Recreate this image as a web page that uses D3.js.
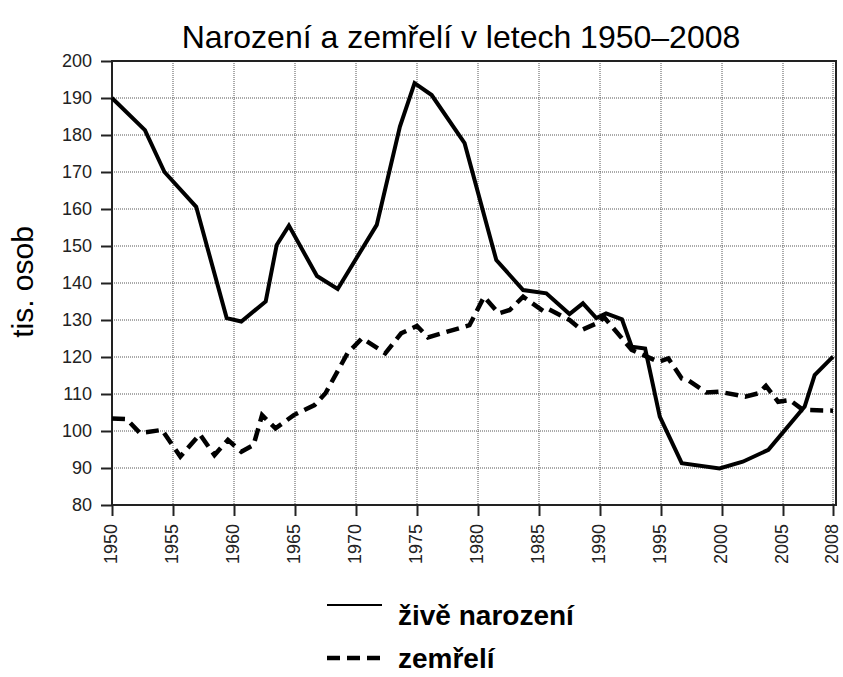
<!DOCTYPE html>
<html><head><meta charset="utf-8">
<script src="https://cdn.jsdelivr.net/npm/d3@7"></script>
<style>body{margin:0;background:#fff}svg{display:block;font-family:"Liberation Sans",Arial,sans-serif}</style>
</head><body><svg id="c" width="843" height="677"></svg>
<script>
const chartTitle = "Narození a zemřelí v letech 1950–2008";
const yTitle = "tis. osob";
const legendLabels = ["živě narození", "zemřelí"];
const xTicks = [1950,1955,1960,1965,1970,1975,1980,1985,1990,1995,2000,2005,2008];
const yTicks = [80,90,100,110,120,130,140,150,160,170,180,190,200];

const birthYears = [1950,1952.7,1954.3,1956.9,1959.4,1960.6,1962.6,1963.5,1964.5,1966.8,1968.5,1971.7,1973.6,1974.8,1976.2,1978.9,1981.5,1983.7,1985.6,1987.5,1988.6,1989.7,1990.5,1991.8,1992.6,1993.7,1994.9,1996.7,1999.8,2001.7,2003.8,2006.3,2006.9,2008];
const birthValues = [190,181.3,170,160.6,130.5,129.6,135,150.3,155.5,141.9,138.4,155.7,182.3,194,190.8,177.8,146.2,138.1,137.2,131.6,134.5,130.5,131.8,130.2,122.8,122.3,103.9,91.3,89.9,91.7,94.9,106.6,115.1,120.1];

const deathYears = [1950,1951.2,1952.3,1954.1,1955.6,1957.2,1958.4,1959.5,1960.6,1961.6,1962.3,1963.4,1964.9,1966.6,1967.5,1969.3,1970.5,1972.4,1973.7,1975,1975.9,1979.3,1980.5,1981.7,1982.6,1983.7,1985.4,1985.8,1987.5,1988.5,1990,1990.3,1992.6,1993.7,1994.8,1995.6,1996.7,1997.2,1998.7,1999.8,2001.9,2003,2003.6,2004.6,2005.4,2006.2,2008];
const deathValues = [103.4,103.2,99.4,100.3,93.1,99.1,93.5,97.6,94.4,96.2,104.3,100.7,104.3,107,110.2,121,125.1,121,126.4,128.4,125.3,128.6,136.3,131.8,132.7,136.3,132.3,132.9,130,127.3,129.5,130.9,121.9,120.3,118.7,119.6,114.2,113.8,110.4,110.6,109.3,110.2,112.2,107.9,108.4,105.7,105.5];

const svg = d3.select("#c");
const L = 112, R = 836, T = 61, B = 505;
const x = d3.scaleLinear().domain([1950, 2005, 2008]).range([112, 783, 833]);
const y = d3.scaleLinear().domain([80, 200]).range([B, T]);

// grid
const g = svg.append("g");
g.selectAll("line.gy").data(yTicks.filter(v => v > 80 && v < 200)).join("line")
  .attr("x1", L).attr("x2", R).attr("y1", d => y(d)).attr("y2", d => y(d))
  .attr("stroke", "#555").attr("stroke-width", 1).attr("stroke-dasharray", "1,1");
g.selectAll("line.gx").data(xTicks.filter(v => v > 1950)).join("line")
  .attr("x1", d => x(d)).attr("x2", d => x(d)).attr("y1", T).attr("y2", B)
  .attr("stroke", "#555").attr("stroke-width", 1).attr("stroke-dasharray", "1,1");

// frame
svg.append("rect").attr("x", L).attr("y", T).attr("width", R - L).attr("height", B - T)
  .attr("fill", "none").attr("stroke", "#222").attr("stroke-width", 2);

// axes
const yAxis = d3.axisLeft(y).tickValues(yTicks).tickSize(11).tickPadding(9).tickFormat(d3.format("d"));
const ya = svg.append("g").attr("transform", `translate(${L},0)`).call(yAxis);
ya.select(".domain").remove();
ya.selectAll("line").attr("stroke", "#222").attr("stroke-width", 2);
ya.selectAll("text").attr("font-size", 18).attr("fill", "#222").attr("font-family", "Liberation Sans, Arial, sans-serif");

const xAxis = d3.axisBottom(x).tickValues(xTicks).tickSize(11).tickFormat(d3.format("d"));
const xa = svg.append("g").attr("transform", `translate(0,${B})`).call(xAxis);
xa.select(".domain").remove();
xa.selectAll("line").attr("stroke", "#222").attr("stroke-width", 2);
xa.selectAll("text").attr("font-size", 18).attr("fill", "#222").attr("font-family", "Liberation Sans, Arial, sans-serif")
  .attr("text-anchor", "end").attr("transform", "translate(-2,0) rotate(-90)")
  .attr("x", -19).attr("y", 0).attr("dy", "0.35em");

// lines
const line = d3.line().x(d => x(d[0])).y(d => y(d[1]));
svg.append("path").datum(birthYears.map((yr, i) => [yr, birthValues[i]]))
  .attr("d", line).attr("fill", "none").attr("stroke", "#000").attr("stroke-width", 4).attr("stroke-linejoin", "miter");
svg.append("path").datum(deathYears.map((yr, i) => [yr, deathValues[i]]))
  .attr("d", line).attr("fill", "none").attr("stroke", "#000").attr("stroke-width", 4.5).attr("stroke-dasharray", "13,7");

// titles
svg.append("text").attr("x", 461).attr("y", 48).attr("text-anchor", "middle")
  .attr("font-size", 32).attr("fill", "#000").text(chartTitle);
svg.append("text").attr("transform", "translate(33,282) rotate(-90)").attr("text-anchor", "middle")
  .attr("font-size", 30).attr("fill", "#000").text(yTitle);

// legend
svg.append("line").attr("x1", 327).attr("x2", 382).attr("y1", 605).attr("y2", 605)
  .attr("stroke", "#000").attr("stroke-width", 2);
svg.append("text").attr("x", 398).attr("y", 625).attr("font-size", 28).attr("font-weight", "bold").text(legendLabels[0]);
svg.append("line").attr("x1", 327).attr("x2", 382).attr("y1", 658).attr("y2", 658)
  .attr("stroke", "#000").attr("stroke-width", 4.5).attr("stroke-dasharray", "13,7");
svg.append("text").attr("x", 398).attr("y", 668).attr("font-size", 28).attr("font-weight", "bold").text(legendLabels[1]);
</script></body></html>
